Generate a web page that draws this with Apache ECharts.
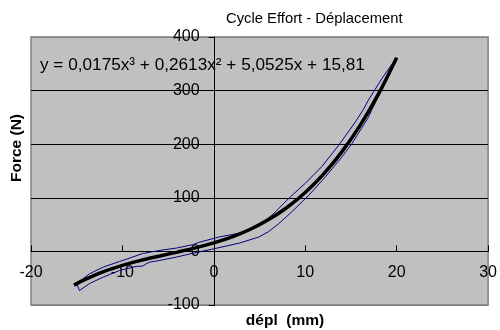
<!DOCTYPE html>
<html>
<head>
<meta charset="utf-8">
<script src="https://cdn.jsdelivr.net/npm/echarts@6/dist/echarts.min.js"></script>
<style>
html,body{margin:0;padding:0;background:#fff;}
#c{width:500px;height:330px;}
</style>
</head>
<body>
<div id="c"></div>
<script>
// Tick values
const xTicks = [-20, -10, 0, 10, 20, 30];
const yTicks = [-100, 0, 100, 200, 300, 400];

// Black thick curve (trend line)
const fitX = [-15.3, -14, -12, -10, -8, -6, -4, -2, 0, 2, 4, 6, 8, 10, 12, 14, 16, 18, 20];
const fitY = [-63, -51.7, -37.4, -26.1, -16.8, -8.9, -1.3, 6.6, 15.8, 27.1, 41.3, 59.3, 81.9, 109.9, 144.2, 185.7, 235.2, 293.5, 361.4];

const loopX = [20.0, 19.8, 18.4, 16.9, 16.4, 15.5, 13.7, 11.8, 10.0, 8.2, 6.4, 4.9, 2.8, 0.6, -1.6, -2.3, -4.1, -5.9, -7.8, -9.2, -10.3, -12.1, -13.6, -15.0,
               -14.7, -13.6, -12.1, -10.3, -8.5, -7.8, -7.4, -7.0, -5.9, -4.1, -2.3, -0.1, 2.8, 4.9, 6.0, 7.1, 8.6, 10.4, 12.2, 14.0, 15.1, 16.9, 17.3, 18.7, 20.0];
const loopY = [361, 357, 323, 282, 266, 242, 199, 158, 127, 99, 68, 49, 34, 27, 17, 12.5, 6.2, 1.9, -4, -12.5, -18.7, -29.3, -41.7, -60.4,
               -73, -60, -48, -35.5, -28, -27.5, -23, -20, -16.8, -10.6, -3.5, 4.5, 15.5, 26.7, 37, 51.7, 75, 105, 139, 176, 201, 250, 265, 313, 361];

const titleText = 'Cycle Effort - Déplacement';
const equationText = 'y = 0,0175x³ + 0,2613x² + 5,0525x + 15,81';
const xName = 'dépl  (mm)';
const yName = 'Force (N)';

const FONT = '"Liberation Sans", Arial, sans-serif';
const pair = (xs, ys) => xs.map((x, i) => [x, ys[i]]);

// plot box
const G = {left: 31, top: 37, width: 459, height: 268};
const xMin = xTicks[0], xMax = xTicks[xTicks.length - 1];
const yMin = yTicks[0], yMax = yTicks[yTicks.length - 1];
// move axes so they cross at zero (Excel style)
const xAxisOffset = -G.height * (0 - yMin) / (yMax - yMin);
const yAxisOffset = -G.width * (0 - xMin) / (xMax - xMin);

const chart = echarts.init(document.getElementById('c'), null, {renderer: 'canvas'});
chart.setOption({
  animation: false,
  backgroundColor: '#ffffff',
  grid: {
    left: G.left, top: G.top, width: G.width, height: G.height,
    show: true, backgroundColor: '#c0c0c0', borderColor: '#808080', borderWidth: 1.5
  },
  xAxis: {
    type: 'value', position: 'bottom', offset: xAxisOffset,
    min: xMin, max: xMax, interval: 10,
    axisLine: {onZero: false, lineStyle: {color: '#000', width: 1}},
    axisTick: {show: true, inside: true, length: 6, lineStyle: {color: '#000'}},
    axisLabel: {color: '#000', fontFamily: FONT, fontSize: 16, margin: 13, showMinLabel: true, showMaxLabel: true},
    splitLine: {show: false}
  },
  yAxis: {
    type: 'value', position: 'left', offset: yAxisOffset,
    min: yMin, max: yMax, interval: 100,
    axisLine: {show: true, onZero: false, lineStyle: {color: '#000', width: 1}},
    axisTick: {show: true, inside: false, length: 6, lineStyle: {color: '#000'}},
    axisLabel: {color: '#000', fontFamily: FONT, fontSize: 16, margin: 15, showMinLabel: true, showMaxLabel: true},
    splitLine: {show: true, lineStyle: {color: ['#808080', '#000', '#000', '#000', '#000', '#808080'], width: 1}}
  },
  graphic: [
    {type: 'text', left: 226, top: 11, style: {text: titleText, font: '14.8px ' + FONT, fill: '#000'}},
    {type: 'text', x: 40, y: 65, z: 100, style: {text: equationText, font: '17.2px ' + FONT, fill: '#000', verticalAlign: 'middle'}},
    {type: 'text', x: 285, y: 321, style: {text: xName, font: 'bold 15.5px ' + FONT, fill: '#000', align: 'center', verticalAlign: 'middle'}},
    {type: 'text', x: 17, y: 148, rotation: Math.PI / 2, style: {text: yName, font: 'bold 15.5px ' + FONT, fill: '#000', align: 'center', verticalAlign: 'middle'}}
  ],
  series: [
    {
      type: 'line', data: pair(loopX, loopY), symbol: 'none', z: 2,
      lineStyle: {color: '#000080', width: 1}
    },
    {
      type: 'line', data: pair(fitX, fitY), symbol: 'none', smooth: 0.3, z: 3,
      lineStyle: {color: '#000', width: 3.5}
    }
  ]
});
</script>
</body>
</html>
